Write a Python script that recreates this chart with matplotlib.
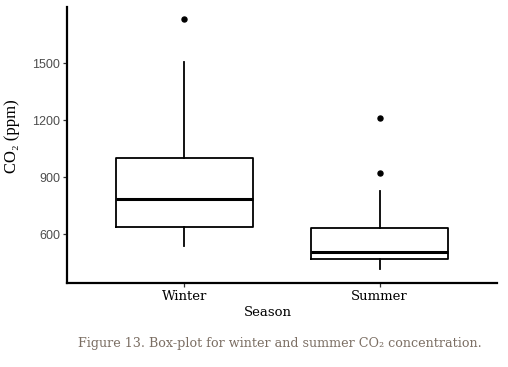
import matplotlib
matplotlib.use("Agg")
import matplotlib.pyplot as plt

seasons = ["Winter", "Summer"]
medians = [784, 505]
q1 = [637, 467]
q3 = [1000, 630]
whisker_low = [537, 416]
whisker_high = [1505, 828]
outliers = [[1731], [1209, 919]]
y_ticks = [600, 900, 1200, 1500]

fig = plt.figure(figsize=(5.08, 3.67), dpi=100)
fig.patch.set_facecolor("white")
ax = fig.add_axes([67/508, 1-282.7/367, (497-67)/508, (282.7-7)/367])

stats = []
for i, s in enumerate(seasons):
    stats.append(dict(label=s, med=medians[i], q1=q1[i], q3=q3[i],
                      whislo=whisker_low[i], whishi=whisker_high[i],
                      fliers=outliers[i]))

ax.bxp(stats, positions=[1, 2], widths=0.7, showcaps=False,
       boxprops=dict(color="black", linewidth=1.3),
       medianprops=dict(color="black", linewidth=2.2),
       whiskerprops=dict(color="black", linewidth=1.3),
       flierprops=dict(marker="o", markersize=3.6, markerfacecolor="black",
                       markeredgecolor="black"))

ax.set_xlim(0.4, 2.6)
ax.set_ylim(344, 1795)
ax.set_yticks(y_ticks)
ax.set_yticklabels([str(v) for v in y_ticks], family="Liberation Sans",
                   fontsize=9, color="#4d4d4d")
ax.set_xticks([1, 2])
ax.set_xticklabels(seasons, family="DejaVu Serif", fontsize=9.5, color="black")
for sp in ["top", "right"]:
    ax.spines[sp].set_visible(False)
for sp in ["left", "bottom"]:
    ax.spines[sp].set_linewidth(1.6)
    ax.spines[sp].set_color("black")
ax.tick_params(axis="both", length=3, width=0.9, color="#333333", pad=2)

fig.text(268/508, 1-312/367, "Season", ha="center", va="center",
         family="DejaVu Serif", fontsize=9.5, color="black")
fig.text(12/508, 1-136/367, "CO₂ (ppm)", ha="center", va="center",
         rotation=90, family=["Liberation Serif", "DejaVu Serif"],
         fontsize=12, color="black")
fig.text(280/508, 1-343/367,
         "Figure 13. Box-plot for winter and summer CO₂ concentration.",
         ha="center", va="center", family="DejaVu Serif", fontsize=9.2,
         color="#7b6e63")

fig.savefig("out.png", dpi=100, facecolor="white")
